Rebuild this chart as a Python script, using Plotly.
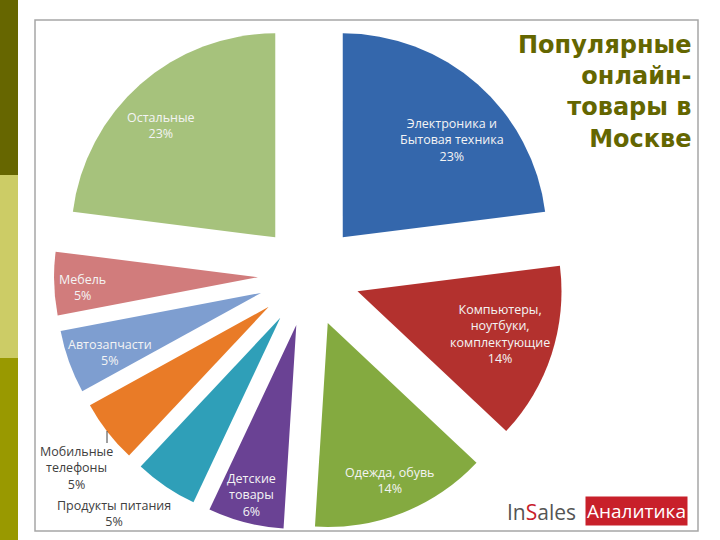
import plotly.graph_objects as go

W, H = 720, 540

# data
categories = ["Электроника и<br>Бытовая техника", "Компьютеры,<br>ноутбуки,<br>комплектующие",
              "Одежда, обувь", "Детские<br>товары", "Продукты питания", "Мобильные<br>телефоны",
              "Автозапчасти", "Мебель", "Остальные"]
shares = [23, 14, 14, 6, 5, 5, 5, 5, 23]

colors = ["#3467AC", "#B3312E", "#84AA40", "#6A4294", "#2F9FB8", "#E97B27",
          "#7E9ED0", "#D17C7C", "#A6C27C"]

# label placement (pixel centres) and whether label sits inside the slice
label_pos = [(452, 140), (500, 334), (390, 480), (252, 495), (114, 513),
             (76, 468), (110, 352), (82, 287), (161, 125)]
label_inside = [True, True, True, True, False, False, True, True, True]


def px(x, y):
    return x / W, 1 - y / H


fig = go.Figure(go.Pie(
    labels=[c.replace("<br>", " ") for c in categories],
    values=shares,
    sort=False,
    direction="clockwise",
    rotation=0,
    pull=[0.25] * len(shares),
    marker=dict(colors=colors, line=dict(width=0)),
    textinfo="none",
    hoverinfo="skip",
    showlegend=False,
    domain=dict(x=[54 / W, 564 / W], y=[1 - 530.6 / H, 1 - 20.6 / H]),
))

annotations = []
for cat, val, (lx, ly), inside in zip(categories, shares, label_pos, label_inside):
    x, y = px(lx, ly)
    annotations.append(dict(
        x=x, y=y, xref="paper", yref="paper", xanchor="center", yanchor="middle",
        text=f"{cat}<br>{val}%", showarrow=False, align="center",
        font=dict(family="Open Sans", size=12.5, color="#F4F4F4" if inside else "#404040"),
    ))

# title
x, y = px(694, 92)
annotations.append(dict(
    x=x, y=y, xref="paper", yref="paper", xanchor="right", yanchor="middle",
    text="<b>Популярные<br>онлайн-<br>товары в<br>Москве</b>", showarrow=False, align="right",
    font=dict(family="DejaVu Sans", size=24, color="#646600"),
))

# logo
x, y = px(578, 512)
annotations.append(dict(
    x=x, y=y, xref="paper", yref="paper", xanchor="right", yanchor="middle",
    text="In<span style='color:#C8202A'>S</span>ales", showarrow=False,
    font=dict(family="Open Sans", size=21, color="#555555"),
))
x, y = px(636, 511)
annotations.append(dict(
    x=x, y=y, xref="paper", yref="paper", xanchor="center", yanchor="middle",
    text="Аналитика", showarrow=False, bgcolor="#C8202A", borderpad=1,
    font=dict(family="Open Sans", size=19, color="white"),
))

shapes = [
    dict(type="rect", xref="paper", yref="paper", x0=0, x1=18 / W, y0=1 - 175 / H, y1=1,
         fillcolor="#666600", line=dict(width=0), layer="below"),
    dict(type="rect", xref="paper", yref="paper", x0=0, x1=18 / W, y0=1 - 358 / H, y1=1 - 175 / H,
         fillcolor="#CCCC66", line=dict(width=0), layer="below"),
    dict(type="rect", xref="paper", yref="paper", x0=0, x1=18 / W, y0=0, y1=1 - 358 / H,
         fillcolor="#999900", line=dict(width=0), layer="below"),
    dict(type="rect", xref="paper", yref="paper", x0=35 / W, x1=698 / W, y0=1 - 531 / H, y1=1 - 20 / H,
         line=dict(color="#A6A6A6", width=1.5), layer="below"),
    dict(type="line", xref="paper", yref="paper", x0=107 / W, x1=107 / W, y0=1 - 443 / H, y1=1 - 431 / H,
         line=dict(color="#404040", width=1)),
]

fig.update_layout(
    width=W, height=H,
    margin=dict(l=0, r=0, t=0, b=0),
    paper_bgcolor="white", plot_bgcolor="white",
    annotations=annotations, shapes=shapes,
)

fig.write_html("out.html", config={"displayModeBar": False},
               post_script="document.body.style.margin='0';")
